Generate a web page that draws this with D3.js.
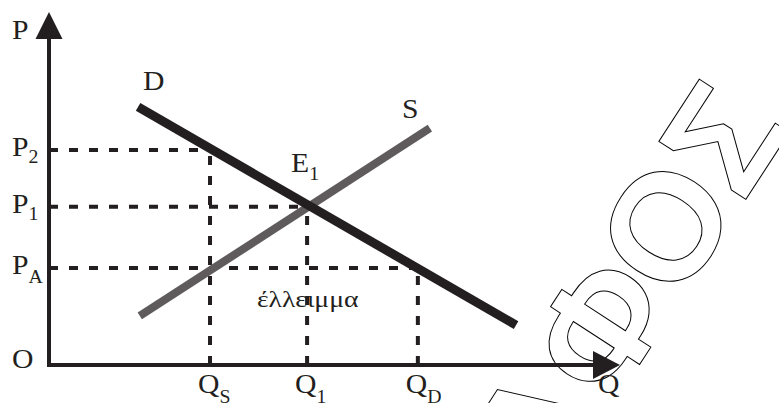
<!DOCTYPE html>
<html>
<head>
<meta charset="utf-8">
<script src="https://cdn.jsdelivr.net/npm/d3@7"></script>
<style>
  body { margin: 0; background: #fff; }
  svg { display: block; }
  text { font-family: "Liberation Serif", "DejaVu Serif", serif; fill: #231f20; }
</style>
</head>
<body>
<div id="chart"></div>
<script>
// quantity / price values (0-100 axis units)
const qTicks = [
  { name: "Q", sub: "S", q: 28.2 },
  { name: "Q", sub: "1", q: 45.2 },
  { name: "Q", sub: "D", q: 64.6 },
];
const pTicks = [
  { name: "P", sub: "2", p: 60.9 },
  { name: "P", sub: "1", p: 44.8 },
  { name: "P", sub: "A", p: 27.5 },
];
// guide lines: [price level, quantity where it stops]
const guides = [
  { p: 60.9, q: 28.2 },
  { p: 44.8, q: 45.2 },
  { p: 27.5, q: 64.6 },
];
const demand = [{ q: 15.6, p: 73.1 }, { q: 81.8, p: 11.3 }];
const supply = [{ q: 15.9, p: 13.9 }, { q: 66.7, p: 67.1 }];
const watermark = ["Λ", "Φ", "Ο", "Σ"];

const width = 779, height = 403;
const ink = "#231f20";

const svg = d3.select("#chart").append("svg")
  .attr("width", width).attr("height", height);

const x = d3.scaleLinear().domain([0, 100]).range([49, 620]);
const y = d3.scaleLinear().domain([0, 100]).range([365, 12]);

// watermark outline text
const wm = svg.append("g").attr("transform", "translate(664,225) rotate(-57)");
wm.selectAll("text")
  .data(watermark)
  .enter()
  .append("text")
  .attr("x", (d, i) => [-240, -120, 0, 105][i])
  .attr("dy", "0.36em")
  .attr("text-anchor", "middle")
  .style("font-family", "'Liberation Sans', 'DejaVu Sans', sans-serif")
  .style("font-weight", "bold")
  .style("font-size", "152px")
  .style("fill", "none")
  .style("stroke", "#000")
  .style("stroke-width", 1)
  .text((d) => d);

// dashed guides
const dash = "9,11";
guides.forEach((g) => {
  svg.append("line")
    .attr("x1", x(0)).attr("x2", x(g.q))
    .attr("y1", y(g.p)).attr("y2", y(g.p))
    .attr("stroke", ink).attr("stroke-width", 4)
    .attr("stroke-dasharray", dash);
  svg.append("line")
    .attr("x1", x(g.q)).attr("x2", x(g.q))
    .attr("y1", y(0)).attr("y2", y(g.p))
    .attr("stroke", ink).attr("stroke-width", 4)
    .attr("stroke-dasharray", dash);
});

// curves
const line = d3.line().x((d) => x(d.q)).y((d) => y(d.p));
svg.append("path").datum(supply)
  .attr("d", line).attr("fill", "none")
  .attr("stroke", "#5f5b5c").attr("stroke-width", 8);
svg.append("path").datum(demand)
  .attr("d", line).attr("fill", "none")
  .attr("stroke", ink).attr("stroke-width", 9);

// axes
svg.append("line")
  .attr("x1", x(0)).attr("x2", x(100) - 20)
  .attr("y1", y(0)).attr("y2", y(0))
  .attr("stroke", ink).attr("stroke-width", 4);
svg.append("line")
  .attr("x1", x(0)).attr("x2", x(0))
  .attr("y1", y(0) + 2).attr("y2", y(100) + 20)
  .attr("stroke", ink).attr("stroke-width", 4);
svg.append("path")
  .attr("d", `M${x(100)},${y(0)} L${x(100) - 27},${y(0) - 14} L${x(100) - 27},${y(0) + 14} Z`)
  .attr("fill", ink);
svg.append("path")
  .attr("d", `M${x(0)},${y(100)} L${x(0) - 13.5},${y(100) + 27} L${x(0) + 13.5},${y(100) + 27} Z`)
  .attr("fill", ink);

// label helper with subscript
function label(tx, ty, main, sub, size, subDy) {
  const t = svg.append("text")
    .attr("transform", `translate(${tx},${ty}) scale(1.1,1)`)
    .style("font-size", size + "px");
  t.append("tspan").text(main);
  if (sub) {
    t.append("tspan").attr("dy", subDy).style("font-size", "18px").text(sub);
  }
}

pTicks.forEach((d) => label(12, y(d.p) + 6, d.name, d.sub, 27, d.sub === "A" ? 9 : 7));
qTicks.forEach((d) => label(x(d.q) - 12, 393, d.name, d.sub, 27, 10));

label(12, 39, "P", null, 27);
label(12, 368, "O", null, 27);
label(598, 393, "Q", null, 27);
label(143, 90, "D", null, 27);
label(402, 118, "S", null, 27);
label(291, 172, "E", "1", 27, 8);

svg.append("text")
  .attr("transform", "translate(257,307) scale(1.15,1)")
  .style("font-size", "24px")
  .text("έλλειμμα");
</script>
</body>
</html>
